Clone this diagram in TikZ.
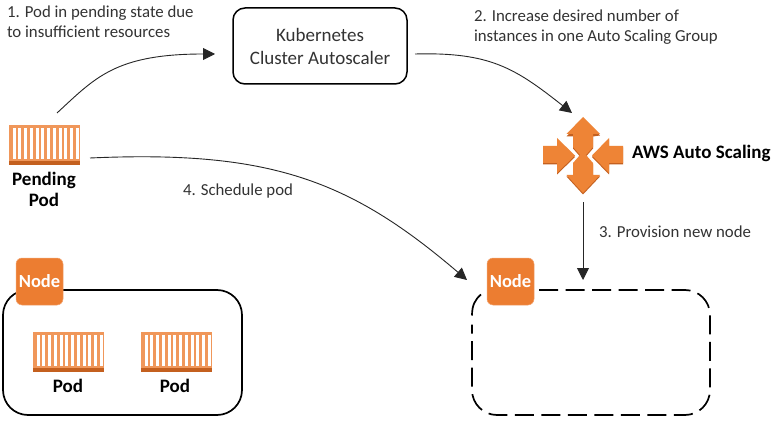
\documentclass[tikz,border=0pt]{standalone}
\usepackage{fontspec}
\setmainfont{Carlito}
\usetikzlibrary{arrows.meta}
\definecolor{awsorange}{HTML}{EE8436}
\definecolor{badgeorange}{HTML}{EC7D31}
\definecolor{poddark}{HTML}{C4601F}
\definecolor{podlight}{HTML}{F0975A}
\definecolor{txt}{HTML}{333333}
\newcommand{\podicon}[2]{%
  \fill[podlight] (#1,#2) rectangle ++(71,40);
  \foreach \i in {0,...,11}{\fill[white] ({#1+3.6+\i*5.75},{#2+3}) rectangle ++(2.9,31);}
  \fill[poddark] (#1,{#2+36}) rectangle ++(71,4);
}
\tikzset{
  x=1pt,y=-1pt,
  every node/.style={inner sep=0pt,outer sep=0pt},
  caption/.style={anchor=west,text=txt,font=\fontsize{16.8}{20}\selectfont,align=left},
  bold label/.style={text=black,font=\fontsize{19}{21}\bfseries\selectfont,align=center},
  conn/.style={draw=black!85,line width=0.9pt,-{Triangle[length=12pt,width=12pt]}},
  hostbox/.style={draw=black,line width=1.7pt,rounded corners=25pt,minimum width=238pt,minimum height=125pt},
  hostslot/.style={minimum width=238pt,minimum height=125pt},
  dashline/.style={draw=black,line width=1.7pt,rounded corners=25pt,dash pattern=on 19pt off 7.5pt},
  badge/.style={fill=badgeorange,draw=badgeorange!70!white,line width=0.5pt,rounded corners=6pt,minimum width=47pt,minimum height=47pt,text=white,font=\fontsize{18.5}{20}\bfseries\selectfont},
  podslot/.style={minimum width=71pt,minimum height=40pt},
}
\begin{document}
\begin{tikzpicture}
\useasboundingbox (0,0) rectangle (781,430);
\fill[white] (0,0) rectangle (781,430);

% Nodes
\node[draw=black,line width=1.5pt,rounded corners=12pt,minimum width=174pt,minimum height=76pt,
  align=center,text=txt,font=\fontsize{19}{23}\selectfont] (cas) at (320,46) {Kubernetes\\Cluster Autoscaler};

\node[podslot] (pending) at (44.5,145) {};
\podicon{9}{125}
\node[bold label] (pendinglabel) at (44,189) {Pending\\Pod};

% AWS icon
\node[minimum width=80pt,minimum height=78pt] (aws) at (583,155.5) {};
\begin{scope}[shift={(0,1.5)}]
\fill[poddark]
  (583,117) -- (600,134) -- (593,135) -- (593,147) -- (586,155) -- (593,163) -- (593,175) -- (600,175) -- (583,193) -- (566.5,175) -- (573,175) -- (573,163) -- (580,155) -- (573,147) -- (573,135) -- (566.5,135) -- cycle;
\fill[poddark] (543,146) -- (557,146) -- (557,138) -- (575,155.5) -- (557,173) -- (557,163) -- (543,163) -- cycle;
\fill[poddark] (623,146) -- (609,146) -- (609,138) -- (592,155.5) -- (609,173) -- (609,163) -- (623,163) -- cycle;
\end{scope}
\fill[awsorange]
  (583,117) -- (600,134) -- (593,134) -- (593,147) -- (586,155) -- (593,163) -- (593,175) -- (600,175) -- (583,193) -- (566.5,175) -- (573,175) -- (573,163) -- (580,155) -- (573,147) -- (573,134) -- (566.5,134) -- cycle;
\fill[awsorange] (543,146) -- (557,146) -- (557,138) -- (575,155.5) -- (557,173) -- (557,163) -- (543,163) -- cycle;
\fill[awsorange] (623,146) -- (609,146) -- (609,138) -- (592,155.5) -- (609,173) -- (609,163) -- (623,163) -- cycle;
\node[bold label,anchor=west] (awslabel) at (632,153) {AWS Auto Scaling};

% Left host
\node[hostbox,minimum width=239pt] (hostA) at (122.5,352.5) {};
\node[badge] (badgeA) at (39.5,281.5) {Node};
\node[podslot] (podA) at (68.5,352) {};
\podicon{33}{332}
\node[bold label] (podAlabel) at (68,386) {Pod};
\node[podslot] (podB) at (176,352) {};
\podicon{141}{332}
\node[bold label] (podBlabel) at (175,386) {Pod};

% Right host: the outline stops on either side of the badge
\node[hostslot] (hostB) at (591,352.5) {};
\draw[dashline] ([xshift=67pt]hostB.north west) -- (hostB.north east) -- (hostB.south east) -- (hostB.south west) -- ([shift={(0,-28)}]hostB.west);
\draw[black,line width=1.7pt] ([shift={(0,-37)}]hostB.west) .. controls ([shift={(0,-47)}]hostB.west) and ([shift={(3,-53)}]hostB.west) .. ([shift={(9,-58)}]hostB.west);
\node[badge] (badgeB) at (510.5,281.5) {Node};

% Captions
\node[caption] (cap1) at (7,22) {1. Pod in pending state due\\to insufficient resources};
\node[caption] (cap2) at (474,27) {2. Increase desired number of\\instances in one Auto Scaling Group};
\node[caption] (cap3) at (599,232) {3. Provision new node};
\node[caption] (cap4) at (183,191) {4. Schedule pod};

% Connectors
\draw[conn] ([shift={(12.5,-12)}]pending.north) .. controls (95,78) and (115,54) .. ([shift={(-18,8)}]cas.west);
\draw[conn] ([shift={(8,8)}]cas.east) .. controls (490,52) and (515,68) .. ([shift={(-11,-3.5)}]aws.north);
\draw[conn] ([shift={(10,13)}]pending.east) .. controls (270,150) and (350,180) .. ([shift={(-20,-1.5)}]badgeB.west);
\draw[conn] ([shift={(0,8)}]aws.south) -- ([shift={(-8,-10)}]hostB.north);
\end{tikzpicture}
\end{document}
